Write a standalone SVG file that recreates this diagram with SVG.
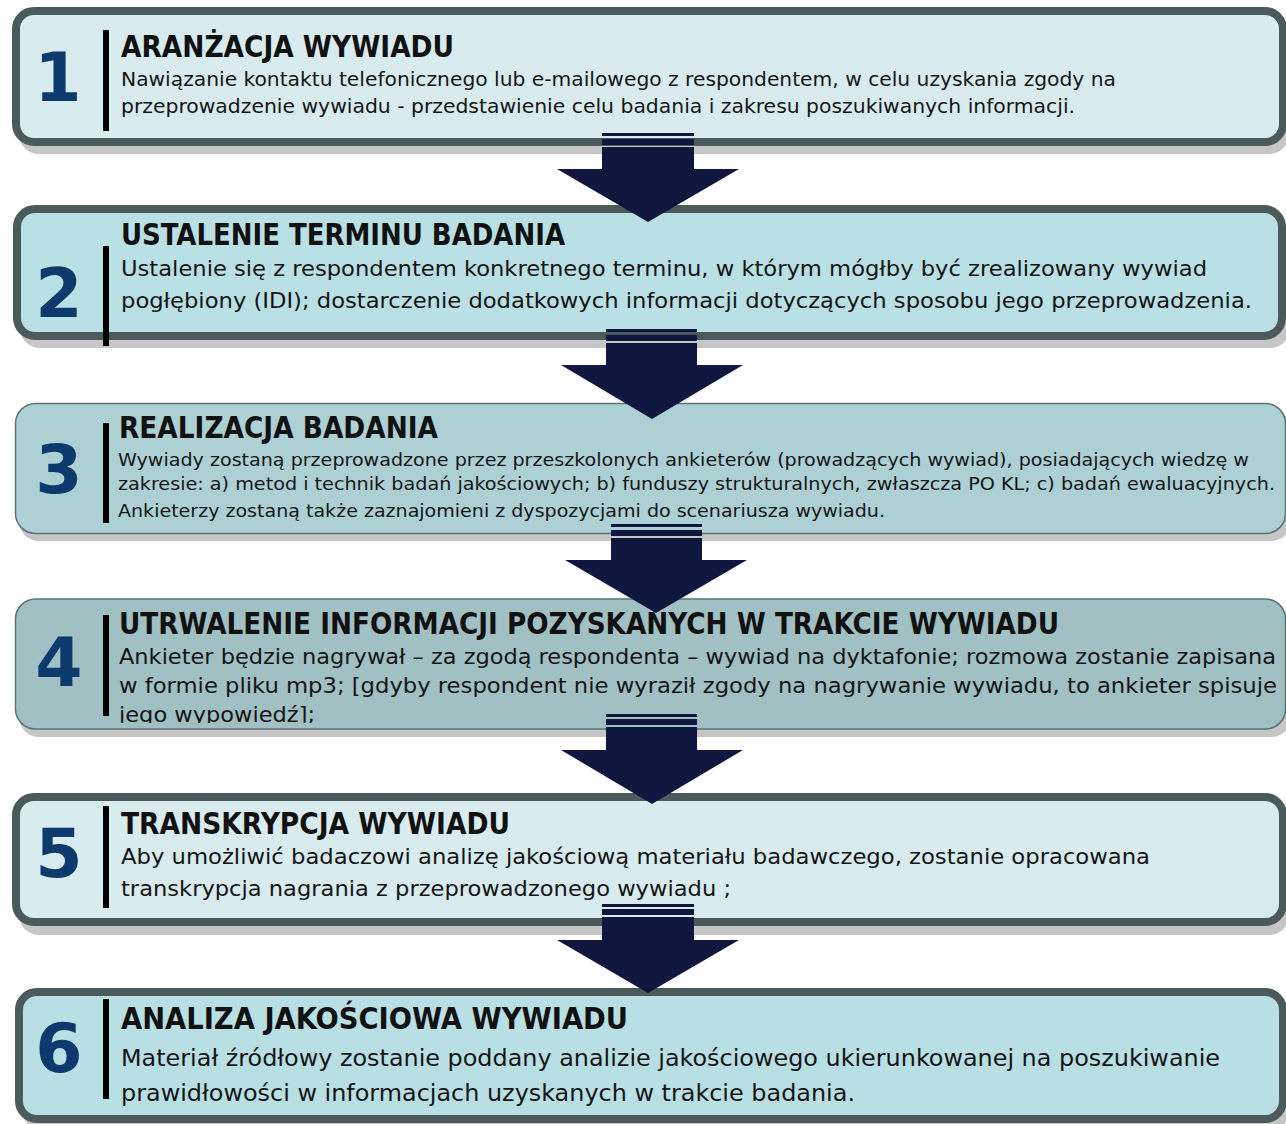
<svg xmlns="http://www.w3.org/2000/svg" width="1286" height="1124" viewBox="0 0 1286 1124">
<style>
.shadow{fill:#c6c6c6}
.thick{stroke:#4b5a5a;stroke-width:8}
.thin{stroke:#5f7275;stroke-width:1.5}
.num{font-family:"DejaVu Sans","Liberation Sans",sans-serif;font-weight:bold;font-size:68px;fill:#0c3a6c;text-anchor:middle}
.title{font-family:"DejaVu Sans Condensed","DejaVu Sans",sans-serif;font-weight:bold;font-size:29.5px;fill:#111}
.body{font-family:"DejaVu Sans Condensed","DejaVu Sans",sans-serif;fill:#151515}
.bar{fill:#000}
.arrow{fill:#10173e}
</style>
<defs>
<clipPath id="clip4"><rect x="0" y="590" width="1286" height="133"/></clipPath>
</defs>
<rect width="1286" height="1124" fill="#fff"/>

<g id="node1">
<rect class="shadow" x="19" y="19" width="1270" height="135" rx="20"/>
<rect class="thick" x="16" y="11" width="1267" height="131" rx="18" fill="#d8ecef"/>
<rect class="bar" x="103" y="30" width="6" height="101"/>
<text class="num" x="58" y="101">1</text>
<text class="title" x="121" y="57" textLength="333" lengthAdjust="spacingAndGlyphs">ARANŻACJA WYWIADU</text>
<text class="body" font-size="19.5" x="121" y="86" textLength="995" lengthAdjust="spacingAndGlyphs">Nawiązanie kontaktu telefonicznego lub e-mailowego z respondentem, w celu uzyskania zgody na</text>
<text class="body" font-size="19.5" x="121" y="113" textLength="954" lengthAdjust="spacingAndGlyphs">przeprowadzenie wywiadu - przedstawienie celu badania i zakresu poszukiwanych informacji.</text>
</g>

<g id="node2">
<rect class="shadow" x="20" y="217" width="1270" height="131" rx="20"/>
<rect class="thick" x="17" y="209" width="1265" height="127" rx="18" fill="#b9e0e4"/>
<rect class="bar" x="103" y="246" width="6" height="100"/>
<text class="num" x="59" y="317">2</text>
<text class="title" x="121" y="245" textLength="444" lengthAdjust="spacingAndGlyphs">USTALENIE TERMINU BADANIA</text>
<text class="body" font-size="22" x="121" y="276" textLength="1086" lengthAdjust="spacingAndGlyphs">Ustalenie się z respondentem konkretnego terminu, w którym mógłby być zrealizowany wywiad</text>
<text class="body" font-size="22" x="121" y="308" textLength="1131" lengthAdjust="spacingAndGlyphs">pogłębiony (IDI); dostarczenie dodatkowych informacji dotyczących sposobu jego przeprowadzenia.</text>
</g>

<g id="node3">
<rect class="shadow" x="19" y="410" width="1272" height="131" rx="20"/>
<rect class="thin" x="15.5" y="403.5" width="1270" height="130" rx="20" fill="#acd0d4"/>
<rect class="bar" x="103" y="423" width="6" height="100"/>
<text class="num" x="59" y="493">3</text>
<text class="title" x="119" y="438" textLength="319" lengthAdjust="spacingAndGlyphs">REALIZACJA BADANIA</text>
<text class="body" font-size="18.5" x="118" y="466" textLength="1131" lengthAdjust="spacingAndGlyphs">Wywiady zostaną przeprowadzone przez przeszkolonych ankieterów (prowadzących wywiad), posiadających wiedzę w</text>
<text class="body" font-size="18.5" x="118" y="490" textLength="1157" lengthAdjust="spacingAndGlyphs">zakresie: a) metod i technik badań jakościowych; b) funduszy strukturalnych, zwłaszcza PO KL; c) badań ewaluacyjnych.</text>
<text class="body" font-size="18.5" x="118" y="517" textLength="767" lengthAdjust="spacingAndGlyphs">Ankieterzy zostaną także zaznajomieni z dyspozycjami do scenariusza wywiadu.</text>
</g>

<g id="node4">
<rect class="shadow" x="19" y="606" width="1272" height="131" rx="20"/>
<rect class="thin" x="15.5" y="599" width="1270" height="130" rx="20" fill="#a0c0c3"/>
<rect class="bar" x="103" y="615" width="6" height="101"/>
<text class="num" x="59" y="686">4</text>
<text class="title" x="119" y="634" textLength="940" lengthAdjust="spacingAndGlyphs">UTRWALENIE INFORMACJI POZYSKANYCH W TRAKCIE WYWIADU</text>
<text class="body" font-size="21.5" x="119" y="664" textLength="1157" lengthAdjust="spacingAndGlyphs">Ankieter będzie nagrywał – za zgodą respondenta – wywiad na dyktafonie; rozmowa zostanie zapisana</text>
<text class="body" font-size="21.5" x="119" y="693" textLength="1158" lengthAdjust="spacingAndGlyphs">w formie pliku mp3; [gdyby respondent nie wyraził zgody na nagrywanie wywiadu, to ankieter spisuje</text>
<text class="body" font-size="21.5" x="119" y="722" clip-path="url(#clip4)" textLength="196" lengthAdjust="spacingAndGlyphs">jego wypowiedź];</text>
</g>

<g id="node5">
<rect class="shadow" x="19" y="805" width="1270" height="130" rx="20"/>
<rect class="thick" x="16" y="797" width="1267" height="125" rx="18" fill="#d8ecef"/>
<rect class="bar" x="103" y="806" width="6" height="102"/>
<text class="num" x="59" y="877">5</text>
<text class="title" x="121" y="834" textLength="389" lengthAdjust="spacingAndGlyphs">TRANSKRYPCJA WYWIADU</text>
<text class="body" font-size="22" x="121" y="864" textLength="1029" lengthAdjust="spacingAndGlyphs">Aby umożliwić badaczowi analizę jakościową materiału badawczego, zostanie opracowana</text>
<text class="body" font-size="22" x="121" y="896" textLength="610" lengthAdjust="spacingAndGlyphs">transkrypcja nagrania z przeprowadzonego wywiadu ;</text>
</g>

<g id="node6">
<rect class="shadow" x="22" y="1000" width="1268" height="130" rx="20"/>
<rect class="thick" x="19" y="992" width="1264" height="127" rx="18" fill="#b8dfe3"/>
<rect class="bar" x="103" y="999" width="6" height="100"/>
<text class="num" x="59" y="1072">6</text>
<text class="title" x="121" y="1029" textLength="507" lengthAdjust="spacingAndGlyphs">ANALIZA JAKOŚCIOWA WYWIADU</text>
<text class="body" font-size="23" x="121" y="1066" textLength="1099" lengthAdjust="spacingAndGlyphs">Materiał źródłowy zostanie poddany analizie jakościowego ukierunkowanej na poszukiwanie</text>
<text class="body" font-size="23" x="121" y="1101" textLength="734" lengthAdjust="spacingAndGlyphs">prawidłowości w informacjach uzyskanych w trakcie badania.</text>
</g>

<g id="connectors">
<g class="arrow">
<rect x="602" y="133" width="92" height="3"/><rect x="602" y="139" width="92" height="6"/>
<polygon points="602,147 694,147 694,169 739,169 648,222 557,169 602,169"/>
</g>
<g class="arrow">
<rect x="606" y="329" width="91" height="3"/><rect x="606" y="335" width="91" height="6"/>
<polygon points="606,343 697,343 697,365 743,365 652,419 561,365 606,365"/>
</g>
<g class="arrow">
<rect x="611" y="524" width="91" height="3"/><rect x="611" y="530" width="91" height="6"/>
<polygon points="611,538 702,538 702,560 747,560 656,613 565,560 611,560"/>
</g>
<g class="arrow">
<rect x="606" y="714" width="91" height="3"/><rect x="606" y="719" width="91" height="6"/>
<polygon points="606,727 697,727 697,750 743,750 652,804 561,750 606,750"/>
</g>
<g class="arrow">
<rect x="602" y="904" width="92" height="3"/><rect x="602" y="909" width="92" height="6"/>
<polygon points="602,917 694,917 694,940 739,940 648,993 557,940 602,940"/>
</g>
</g>
</svg>
